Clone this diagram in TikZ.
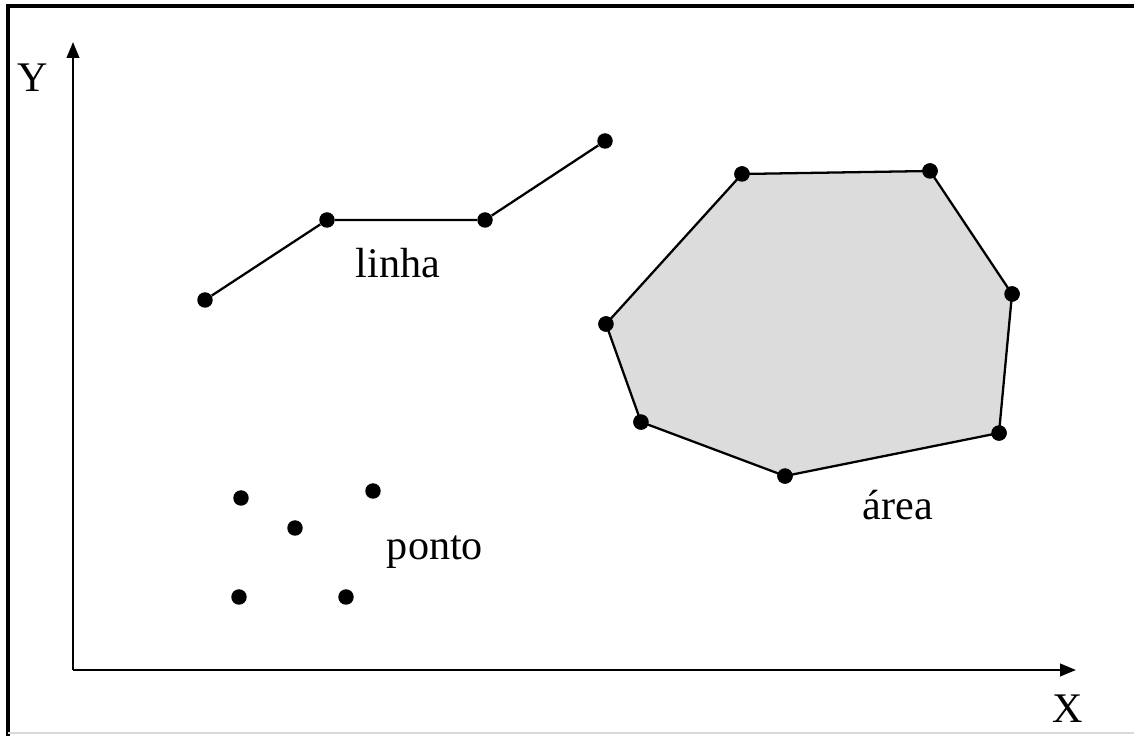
\documentclass[tikz,border=0pt]{standalone}
\usepackage{fontspec}
\setmainfont{Liberation Serif}
\usetikzlibrary{arrows.meta}
\definecolor{areagray}{RGB}{220,220,220}
\newcommand\dotnode[3]{\node[dot] (#1) at (#2,#3) {};}

\begin{document}
\begin{tikzpicture}[x=0.02cm, y=-0.02cm,
    dot/.style={circle, fill=black, inner sep=0pt, minimum size=0.31cm},
    axis/.style={line width=1.4pt, -{Triangle[length=0.32cm, width=0.25cm]}},
    edge/.style={line width=1.3pt},
    lbl/.style={font=\fontsize{24}{27}\selectfont}]
      \useasboundingbox (0,0) rectangle (1134,736);
      % frame
      \draw[line width=2.2pt] (8,736) -- (8,6) -- (1134,6);
      \draw[black!15, line width=0.6pt] (8,733) -- (1134,733);

      % axes
      \coordinate (origin) at (73,670);
      \coordinate (ytop) at (73,42);
      \coordinate (xend) at (1076,670);
      \draw[axis] (origin) -- (ytop);
      \draw[axis] (origin.center) -- (xend);
      \node[lbl] (ylab) at (33,78) {Y};
      \node[lbl] (xlab) at (1068,709) {X};

      % area
      \dotnode{a1}{742}{174}
      \dotnode{a2}{930}{171}
      \dotnode{a3}{1012}{294}
      \dotnode{a4}{999}{433}
      \dotnode{a5}{785}{476}
      \dotnode{a6}{641}{422}
      \dotnode{a7}{606}{324}
      \filldraw[fill=areagray, edge] (a1.center) -- (a2.center) -- (a3.center)
        -- (a4.center) -- (a5.center) -- (a6.center) -- (a7.center) -- cycle;
      \foreach \p in {a1,a2,a3,a4,a5,a6,a7}
        \fill (\p) circle (0.155cm);
      \node[lbl] (arealab) at (898,505) {área};

      % linha
      \dotnode{l1}{205}{300}
      \dotnode{l2}{327}{220}
      \dotnode{l3}{485}{220}
      \dotnode{l4}{605}{141}
      \draw[edge] (l1) -- (l2) -- (l3) -- (l4);
      \node[lbl] (linhalab) at (398,263) {linha};

      % ponto
      \dotnode{p1}{241}{498}
      \dotnode{p2}{373}{491}
      \dotnode{p3}{295}{528}
      \dotnode{p4}{239}{597}
      \dotnode{p5}{346}{597}
      \node[lbl] (pontolab) at (435,552) {ponto};
    \end{tikzpicture}
\end{document}
